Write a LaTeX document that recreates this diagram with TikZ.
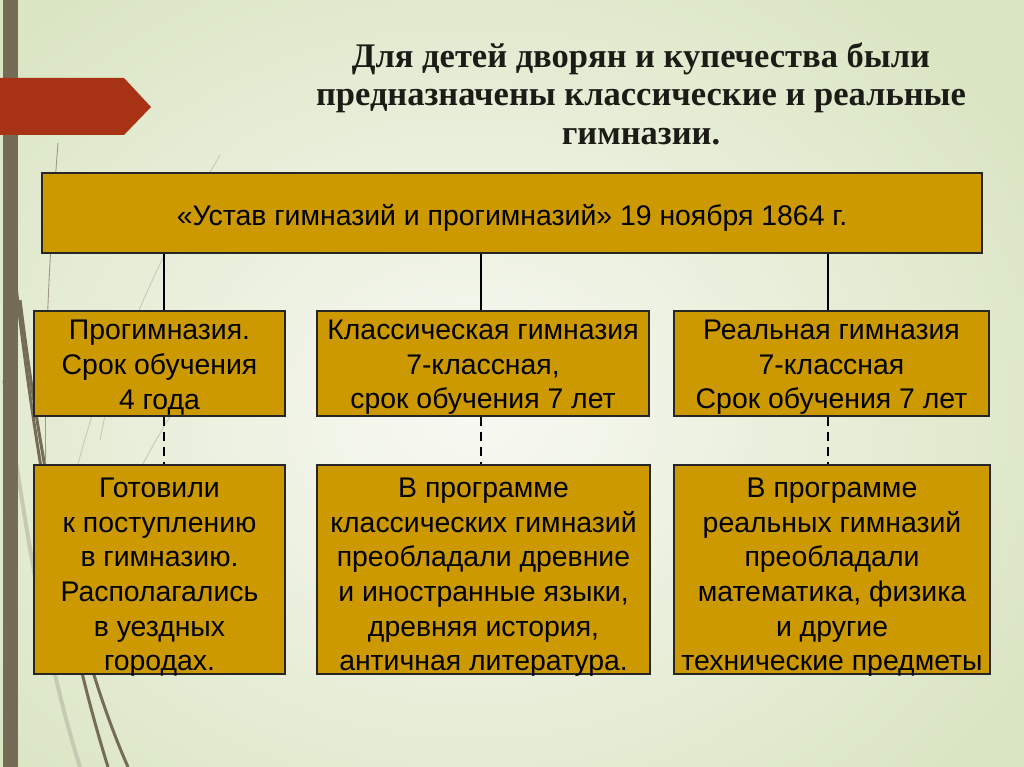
\documentclass[tikz,border=0pt]{standalone}
\usepackage{fontspec}
\setmainfont{Liberation Sans}
\newfontfamily\titlefont{Liberation Serif}
\newcommand\myup[1]{\rule{0pt}{#1}}
\definecolor{boxgold}{HTML}{CC9900}
\definecolor{barbrown}{HTML}{756C58}
\definecolor{arrowred}{HTML}{A83214}
\definecolor{bgouter}{HTML}{DAE5C3}
\definecolor{bginner}{HTML}{F8F9F3}
\definecolor{wisplight}{HTML}{C6CAB2}
\definecolor{titleink}{HTML}{1C1C16}
\begin{document}
\begin{tikzpicture}[x=1pt,y=-1pt,
  box/.style={draw=black!85, line width=1.2pt, fill=boxgold, align=center, inner sep=0pt,
    font=\fontsize{28.4}{34.6}\selectfont},
  link/.style={line width=2.8pt, black},
  dlink/.style={line width=2.8pt, black, dash pattern=on 9pt off 6pt},
  wisp/.style={line width=3pt, barbrown},
  thinwisp/.style={line width=0.9pt, barbrown!70},
  lightwisp/.style={line width=0.9pt, wisplight},
]
\useasboundingbox (0,0) rectangle (1024,767);
% background
\fill[bgouter] (0,0) rectangle (1024,767);
\shade[inner color=bginner, outer color=bgouter] (-180,-120) rectangle (1120,940);
% decorative wisps
\draw[line width=4pt, wisplight] (4,380) .. controls (24,520) and (46,660) .. (80,767);
\draw[wisp] (12,250) .. controls (30,420) and (62,620) .. (108,767);
\draw[wisp] (20,300) .. controls (40,460) and (72,640) .. (128,767);
\draw[thinwisp] (58,143) .. controls (46,300) and (40,430) .. (52,620);
\draw[lightwisp] (220,155) .. controls (170,240) and (120,330) .. (100,440);
\draw[lightwisp] (172,413) .. controls (150,450) and (120,500) .. (105,560);
\draw[lightwisp] (92,415) .. controls (85,440) and (78,460) .. (75,480);
% left bar and red arrow
\fill[barbrown] (3,0) rectangle (18,767);
\fill[arrowred] (0,78) -- (124,78) -- (151,107) -- (124,135) -- (0,135) -- cycle;
% title
\node[font=\titlefont\bfseries\fontsize{34.5}{38.5}\selectfont, text=titleink, align=center]
  (title) at (641,93.5) {Для детей дворян и купечества были\\предназначены классические и реальные\\гимназии.};
% boxes
\node[box, minimum width=940pt, minimum height=80pt] (top) at (512,213)
  {\myup{31pt}«Устав гимназий и прогимназий» 19 ноября 1864 г.};
\node[box, minimum width=251pt, minimum height=105pt] (m1) at (159.5,363.5)
  {\myup{27.5pt}Прогимназия.\\Срок обучения\\4 года};
\node[box, minimum width=332pt, minimum height=105pt] (m2) at (483,363.5)
  {\myup{27.5pt}Классическая гимназия\\7-классная,\\срок обучения 7 лет};
\node[box, minimum width=315pt, minimum height=105pt] (m3) at (831.5,363.5)
  {\myup{27.5pt}Реальная гимназия\\7-классная\\Срок обучения 7 лет};
\node[box, minimum width=251pt, minimum height=209pt] (b1) at (159.5,569.5)
  {\myup{29.4pt}Готовили\\к поступлению\\в гимназию.\\Располагались\\в уездных\\\smash{городах.}};
\node[box, minimum width=333pt, minimum height=209pt] (b2) at (483.5,569.5)
  {\myup{29.4pt}В программе\\классических гимназий\\преобладали древние\\и иностранные языки,\\древняя история,\\\smash{античная литература.}};
\node[box, minimum width=316pt, minimum height=209pt] (b3) at (832,569.5)
  {\myup{29.4pt}В программе\\реальных гимназий\\преобладали\\математика, физика\\и другие\\\smash{технические предметы}};
% connectors
\coordinate (c1) at (164,0);
\coordinate (c2) at (481,0);
\coordinate (c3) at (828,0);
\draw[link] (top.south -| c1) -- (m1.north -| c1);
\draw[link] (top.south -| c2) -- (m2.north -| c2);
\draw[link] (top.south -| c3) -- (m3.north -| c3);
\draw[dlink] (m1.south -| c1) -- (b1.north -| c1);
\draw[dlink] (m2.south -| c2) -- (b2.north -| c2);
\draw[dlink] (m3.south -| c3) -- (b3.north -| c3);
\end{tikzpicture}
\end{document}
